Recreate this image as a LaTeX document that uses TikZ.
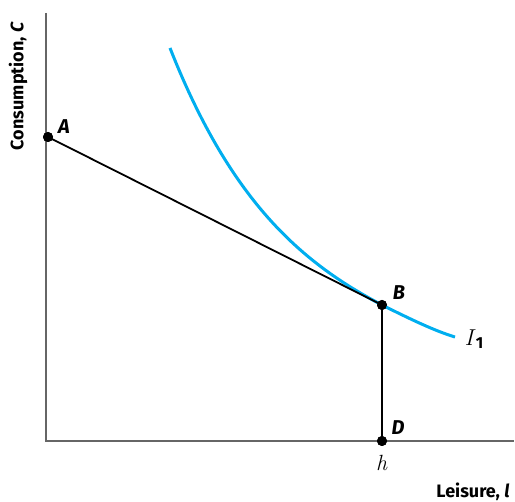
\documentclass[tikz,border=0pt]{standalone}
\usepackage{fontspec}
\setsansfont{Fira Sans}
\begin{document}
\begin{tikzpicture}[x=1pt,y=-1pt,
  axis/.style={draw=black!60,line width=1.6pt},
  budget/.style={draw=black,line width=1.8pt},
  icurve/.style={draw=icblue,line width=3pt},
  dot/.style={circle,fill=black,inner sep=0pt,minimum size=10pt},
  lab/.style={font=\sffamily\bfseries\itshape\fontsize{20}{20}\selectfont},
  axlab/.style={font=\sffamily\bfseries\fontsize{18}{18}\selectfont}]
\definecolor{icblue}{RGB}{0,174,239}
\useasboundingbox (0,0) rectangle (515,502);
\coordinate (top) at (46,13);
\coordinate (O) at (46,441);
\coordinate (right) at (514,441);
\draw[axis] (top) -- (O) -- (right);
\node[dot] (A) at (48,137) {};
\node[dot] (B) at (382,305) {};
\node[dot] (D) at (382,441) {};
\coordinate (c0) at (170,48);
\coordinate (c1) at (455,337);
\draw[icurve] (c0) .. controls (230,200) and (300,262) .. (B.center)
  .. controls (410,319) and (435,331) .. (c1);
\draw[budget] (A.center) -- (B.center) -- (D.center);
\node[dot] at (A) {};
\node[dot] at (B) {};
\node[dot] at (D) {};
\node[lab] (la) at (64,127) {A};
\node[lab] (lb) at (399,293) {B};
\node[lab] (ld) at (398,428) {D};
\node (lh) at (382,463) {\fontsize{22}{22}\selectfont\textit{h}};
\node (li) at (474,339) {\fontsize{23}{23}\selectfont\textit{I}\raisebox{-3pt}{\sffamily\bfseries\fontsize{16}{16}\selectfont 1}};
\node[axlab,rotate=90] (ly) at (18,86) {Consumption, \textit{C}};
\node[axlab,anchor=east] (lx) at (513,492) {Leisure, \textit{l}};
\end{tikzpicture}
\end{document}
